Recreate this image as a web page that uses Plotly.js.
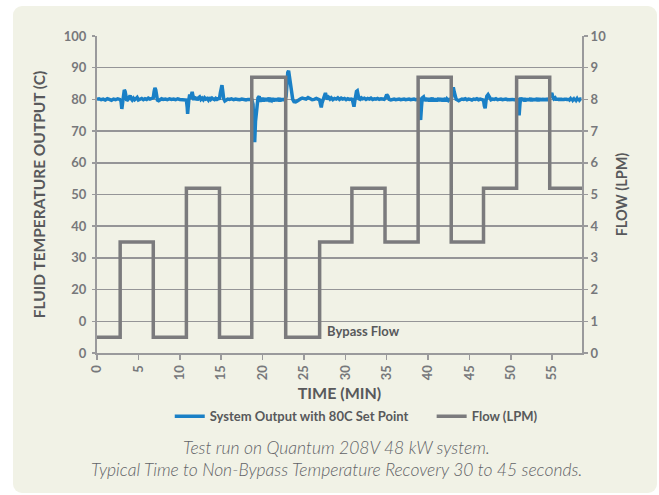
<!DOCTYPE html>
<html>
<head>
<meta charset="utf-8">
<script src="https://cdn.plot.ly/plotly-3.0.1.min.js"></script>
<style>
  html, body { margin: 0; padding: 0; background: #ffffff; width: 659px; height: 495px; overflow: hidden; }
  #card { position: absolute; left: 13px; top: 6px; width: 644px; height: 487px; background: #f1f2e6; border-radius: 9px; }
  #chart { position: absolute; left: 0; top: 0; width: 659px; height: 495px; }
</style>
</head>
<body>
<div id="card"></div>
<div id="chart"></div>
<script>
// ---------- DATA ----------
const xTickVals = [0, 5, 10, 15, 20, 25, 30, 35, 40, 45, 50, 55];
const yTickVals = [0, 10, 20, 30, 40, 50, 60, 70, 80, 90, 100];
const yTickText = ["0", "0", "20", "30", "40", "50", "60", "70", "80", "90", "100"];
const y2TickVals = [0, 1, 2, 3, 4, 5, 6, 7, 8, 9, 10];

// Flow (LPM) step changes: time (min) where each level starts
const flowTime  = [0,   2.8, 6.8, 10.8, 14.8, 18.7, 22.8, 26.9, 30.8, 34.8, 38.8, 42.8, 46.7, 50.7, 54.7, 58.6];
const flowValue = [0.5, 3.5, 0.5, 5.2,  0.5,  8.7,  0.5,  3.5,  5.2,  3.5,  8.7,  3.5,  5.2,  8.7,  5.2,  5.2];

// System output temperature (C): [time (min), temperature]
const tempPoints = [
  [0,80.0],[0.25,80.2],[0.5,79.9],[0.75,80.1],[1.0,79.8],[1.25,80.2],[1.5,80.0],[1.75,79.7],[2.0,80.1],[2.25,79.9],[2.5,80.2],[2.75,80.0],
  [2.9,79.5],[3.0,77.0],[3.1,79.0],[3.2,81.8],[3.3,83.0],[3.4,82.5],[3.5,80.5],[3.6,79.6],[3.75,80.0],[3.9,80.8],[4.0,81.2],[4.1,80.3],[4.25,79.8],[4.4,80.4],[4.55,79.9],[4.7,80.2],[4.85,80.6],[5.0,79.8],[5.2,80.1],[5.4,80.3],[5.6,79.9],[5.8,80.2],[6.0,80.0],[6.2,80.4],[6.4,80.1],[6.6,80.3],
  [6.8,80.5],[6.9,82.5],[7.0,83.6],[7.1,83.0],[7.2,81.0],[7.3,79.8],[7.45,79.6],[7.6,80.0],[7.8,80.2],[8.0,80.0],[8.25,80.1],[8.5,79.9],[8.75,80.2],[9.0,80.0],[9.25,80.1],[9.5,79.9],[9.75,80.2],[10.0,80.0],[10.25,80.0],[10.5,79.9],[10.7,80.0],
  [10.8,79.8],[10.9,77.5],[10.95,75.4],[11.0,77.0],[11.1,80.0],[11.2,81.5],[11.3,80.2],[11.4,81.0],[11.5,82.4],[11.6,81.0],[11.7,79.8],[11.8,80.9],[11.9,80.1],[12.0,80.6],[12.1,79.7],[12.25,80.5],[12.4,80.8],[12.55,80.0],[12.7,80.4],[12.85,79.9],[13.0,80.5],[13.15,80.1],[13.3,80.3],[13.45,79.8],[13.6,80.6],[13.75,80.0],[13.9,80.4],[14.05,80.1],[14.2,79.9],[14.35,80.3],[14.5,80.0],[14.65,80.2],
  [14.8,80.3],[14.9,82.0],[15.0,84.0],[15.1,84.5],[15.2,82.5],[15.3,80.3],[15.45,79.5],[15.6,79.8],[15.8,80.1],[16.0,80.0],[16.25,80.2],[16.5,79.9],[16.75,80.1],[17.0,80.0],[17.25,79.9],[17.5,80.1],[17.75,80.0],[18.0,79.8],[18.25,80.0],[18.5,79.9],[18.7,80.0],
  [18.85,78.5],[18.95,72.0],[19.05,66.5],[19.15,73.0],[19.3,78.5],[19.45,80.5],[19.6,81.0],[19.7,79.2],[19.8,80.4],[19.9,79.5],[20.0,80.6],[20.1,79.3],[20.2,80.2],[20.3,79.6],[20.4,80.5],[20.5,79.4],[20.6,80.3],[20.7,79.7],[20.8,80.6],[20.9,79.2],[21.0,80.1],[21.1,79.8],[21.2,80.5],[21.3,79.3],[21.4,80.2],[21.5,79.6],[21.6,80.4],[21.7,79.4],[21.8,80.3],[21.9,79.8],[22.0,80.5],[22.1,79.3],[22.2,80.2],[22.3,79.7],[22.4,80.4],[22.5,79.5],[22.6,80.2],[22.7,79.8],
  [22.85,81.0],[22.95,85.5],[23.05,88.5],[23.15,89.0],[23.25,87.0],[23.35,84.0],[23.5,81.5],[23.65,80.0],[23.8,79.3],[24.0,79.2],[24.2,79.5],[24.4,80.0],[24.6,80.2],[24.8,80.4],[25.0,80.3],[25.25,80.1],[25.5,80.6],[25.75,80.2],[26.0,79.9],[26.25,80.0],[26.5,80.3],[26.75,80.0],
  [26.9,79.8],[27.0,78.5],[27.1,77.5],[27.2,79.0],[27.35,80.5],[27.5,81.5],[27.6,82.0],[27.7,81.0],[27.85,80.0],[28.0,80.6],[28.15,80.1],[28.3,80.5],[28.5,79.9],[28.7,80.3],[28.9,80.1],[29.1,80.5],[29.3,80.0],[29.5,80.4],[29.7,80.1],[29.9,80.3],[30.1,79.9],[30.3,80.2],[30.5,80.0],[30.7,80.1],
  [30.85,80.0],[30.95,78.8],[31.05,77.7],[31.15,79.5],[31.25,81.5],[31.35,82.5],[31.45,82.7],[31.55,81.5],[31.65,80.2],[31.8,80.0],[31.95,80.5],[32.1,80.2],[32.3,80.4],[32.5,80.0],[32.7,80.3],[32.9,80.1],[33.1,80.4],[33.3,80.0],[33.5,80.2],[33.7,80.1],[33.9,80.3],[34.1,80.0],[34.3,80.2],[34.5,80.1],[34.7,80.0],
  [34.85,80.5],[35.0,81.5],[35.15,81.0],[35.3,80.0],[35.5,79.8],[35.7,80.0],[35.9,80.1],[36.1,79.9],[36.3,80.0],[36.5,80.1],[36.7,79.9],[36.9,80.0],[37.1,80.1],[37.3,79.9],[37.5,80.0],[37.7,80.1],[37.9,79.9],[38.1,80.0],[38.3,80.1],[38.5,79.9],[38.7,80.0],
  [38.9,80.5],[39.0,76.5],[39.1,73.5],[39.2,77.5],[39.3,80.5],[39.45,80.8],[39.6,79.5],[39.7,80.6],[39.8,79.4],[39.9,80.3],[40.0,79.7],[40.1,80.5],[40.2,79.3],[40.3,80.2],[40.4,79.8],[40.5,80.6],[40.6,79.4],[40.7,80.1],[40.8,79.7],[40.9,80.4],[41.0,79.3],[41.1,80.2],[41.2,79.6],[41.3,80.5],[41.4,79.4],[41.5,80.3],[41.6,79.8],[41.7,80.4],[41.8,79.3],[41.9,80.2],[42.0,79.7],[42.1,80.5],[42.2,79.4],[42.3,80.1],[42.4,79.8],[42.5,80.4],[42.6,79.5],[42.7,80.0],
  [42.85,80.5],[42.95,82.5],[43.05,83.8],[43.15,82.5],[43.25,81.0],[43.4,80.0],[43.55,79.8],[43.7,79.6],[43.9,79.9],[44.1,80.1],[44.3,80.0],[44.5,80.2],[44.7,79.9],[44.9,80.1],[45.1,80.0],[45.3,79.8],[45.5,80.1],[45.7,80.0],[45.9,80.2],[46.1,79.9],[46.3,80.1],[46.5,80.0],
  [46.7,79.8],[46.8,78.0],[46.9,77.2],[47.0,79.5],[47.1,81.0],[47.25,81.5],[47.4,80.5],[47.6,79.9],[47.8,80.1],[48.0,80.0],[48.2,80.2],[48.4,79.9],[48.6,80.0],[48.8,80.1],[49.0,79.9],[49.2,80.0],[49.4,80.1],[49.6,79.9],[49.8,80.0],[50.0,80.1],[50.2,80.0],[50.4,79.9],[50.6,80.0],
  [50.8,80.0],[50.9,77.5],[51.0,75.0],[51.1,78.5],[51.2,80.6],[51.3,79.5],[51.4,80.4],[51.5,79.6],[51.6,80.5],[51.7,79.3],[51.8,80.2],[51.9,79.7],[52.0,80.4],[52.1,79.5],[52.2,80.3],[52.3,79.6],[52.4,80.5],[52.5,79.4],[52.6,80.2],[52.7,79.7],[52.8,80.4],[52.9,79.5],[53.0,80.3],[53.1,79.6],[53.2,80.5],[53.3,79.4],[53.4,80.2],[53.5,79.8],[53.6,80.4],[53.7,79.5],[53.8,80.3],[53.9,79.6],[54.0,80.4],[54.1,79.5],[54.2,80.2],[54.3,79.7],[54.4,80.4],[54.5,79.6],[54.6,80.1],
  [54.75,80.5],[54.85,81.5],[54.95,82.0],[55.05,81.0],[55.2,80.2],[55.35,80.5],[55.5,79.7],[55.6,80.4],[55.7,79.8],[55.8,80.3],[55.9,79.6],[56.0,80.4],[56.1,79.8],[56.2,80.2],[56.3,79.6],[56.4,80.3],[56.5,79.7],[56.6,80.4],[56.7,79.8],[56.8,80.2],[56.9,79.6],[57.0,80.3],[57.1,79.9],[57.2,80.2],[57.3,79.7],[57.4,80.4],[57.5,79.8],[57.6,80.1],[57.7,79.6],[57.8,80.3],[57.9,79.8],[58.0,80.2],[58.1,79.7],[58.2,80.3],[58.3,79.8],[58.4,80.1],[58.5,80.0]
];

const seriesNames = ["System Output with 80C Set Point", "Flow (LPM)"];
const captionLines = [
  "Test run on Quantum 208V 48 kW system.",
  "Typical Time to Non-Bypass Temperature Recovery 30 to 45 seconds."
];

// ---------- STYLE ----------
const FONT = "Lato, 'Open Sans', sans-serif";
const tickColor = "#77787b";
const titleColor = "#58595b";
const lineColor = "#9a9a9c";

const traces = [
  {
    x: tempPoints.map(p => p[0]),
    y: tempPoints.map(p => p[1]),
    name: seriesNames[0],
    type: "scatter",
    mode: "lines",
    line: { color: "#1a80c6", width: 3.5 },
    yaxis: "y",
    legend: "legend"
  },
  {
    x: flowTime,
    y: flowValue,
    name: seriesNames[1],
    type: "scatter",
    mode: "lines",
    line: { color: "#7b7b7d", width: 3.5, shape: "hv" },
    yaxis: "y2",
    legend: "legend2"
  }
];

const legendFont = { family: FONT, size: 13, color: titleColor, weight: "bold" };

const layout = {
  width: 659,
  height: 495,
  paper_bgcolor: "rgba(0,0,0,0)",
  plot_bgcolor: "rgba(0,0,0,0)",
  margin: { l: 97, r: 77, t: 36, b: 142, pad: 0 },
  font: { family: FONT, color: titleColor },
  showlegend: true,
  legend: {
    orientation: "h",
    x: 0.15, xanchor: "left",
    y: -0.2, yanchor: "middle",
    font: legendFont,
    bgcolor: "rgba(0,0,0,0)",
    itemwidth: 30
  },
  legend2: {
    orientation: "h",
    x: 0.69, xanchor: "left",
    y: -0.2, yanchor: "middle",
    font: legendFont,
    bgcolor: "rgba(0,0,0,0)",
    itemwidth: 30
  },
  xaxis: {
    range: [0, 58.6],
    tickvals: xTickVals,
    ticktext: xTickVals.map(String),
    tickangle: -90,
    ticks: "outside", ticklen: 5, tickwidth: 1.5, tickcolor: lineColor,
    showline: true, linecolor: lineColor, linewidth: 2,
    showgrid: false, zeroline: false,
    tickfont: { family: FONT, size: 13, color: tickColor, weight: "bold" },
    title: { text: "TIME (MIN)", standoff: 9, font: { family: FONT, size: 16, color: titleColor, weight: "bold" } },
    automargin: false
  },
  yaxis: {
    range: [0, 100],
    tickvals: yTickVals,
    ticktext: yTickText,
    ticks: "outside", ticklen: 3, tickwidth: 1.5, tickcolor: lineColor,
    ticklabelstandoff: 3,
    showline: true, linecolor: lineColor, linewidth: 2,
    showgrid: true, gridcolor: "#959597", gridwidth: 1.5,
    zeroline: false,
    tickfont: { family: FONT, size: 13, color: tickColor, weight: "bold" },
    title: { text: "FLUID TEMPERATURE OUTPUT (C)", standoff: 14, font: { family: FONT, size: 15.5, color: titleColor, weight: "bold" } },
    automargin: false
  },
  yaxis2: {
    range: [0, 10],
    tickvals: y2TickVals,
    overlaying: "y",
    side: "right",
    ticks: "outside", ticklen: 4, tickwidth: 1.5, tickcolor: lineColor,
    showline: true, linecolor: lineColor, linewidth: 2,
    showgrid: false, zeroline: false,
    tickfont: { family: FONT, size: 13, color: tickColor, weight: "bold" },
    title: { text: "FLOW (LPM)", standoff: 12, font: { family: FONT, size: 14.5, color: titleColor, weight: "bold" } },
    automargin: false
  },
  annotations: [
    {
      x: 27.6, y: 6.9, xref: "x", yref: "y",
      xanchor: "left", yanchor: "middle",
      text: "Bypass Flow", showarrow: false,
      font: { family: FONT, size: 13, color: titleColor, weight: "bold" }
    },
    {
      x: 336, y: 495 - 447, xref: "paper", yref: "paper",
      text: captionLines[0], showarrow: false
    },
    {
      x: 336, y: 495 - 469, xref: "paper", yref: "paper",
      text: captionLines[1], showarrow: false
    }
  ]
};

// caption positions are given in page pixels above; convert to paper fractions of the plot area
(function () {
  const l = layout.margin.l, r = layout.margin.r, t = layout.margin.t, b = layout.margin.b;
  const pw = layout.width - l - r, ph = layout.height - t - b;
  for (let i = 1; i <= 2; i++) {
    const a = layout.annotations[i];
    const px = a.x, pyFromBottom = a.y;
    a.x = (px - l) / pw;
    a.y = (pyFromBottom - b) / ph;
    a.xanchor = "center"; a.yanchor = "middle";
    a.font = { family: FONT, size: 17.5, color: "#626366", style: "italic", weight: 300 };
  }
})();

Plotly.newPlot("chart", traces, layout, { displayModeBar: false, staticPlot: true });
</script>
</body>
</html>
